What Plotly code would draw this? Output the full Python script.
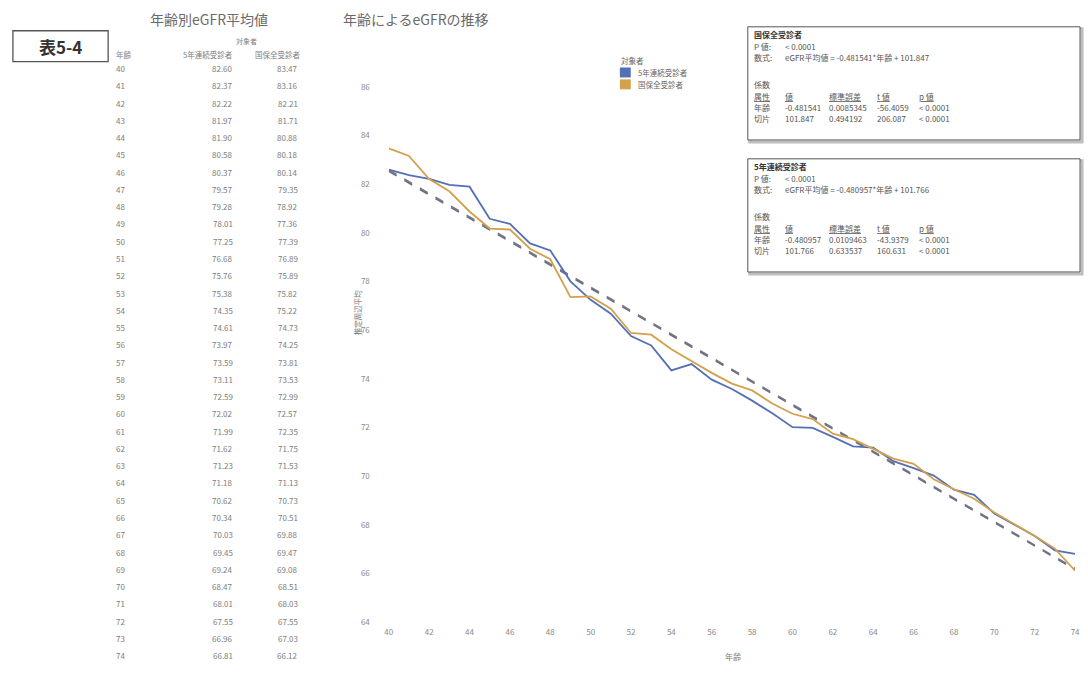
import plotly.graph_objects as go

# ---- data -------------------------------------------------------------
ages = list(range(40, 75))
egfr_5yr = [82.60, 82.37, 82.22, 81.97, 81.90, 80.58, 80.37, 79.57, 79.28, 78.01,
            77.25, 76.68, 75.76, 75.38, 74.35, 74.61, 73.97, 73.59, 73.11, 72.59,
            72.02, 71.99, 71.62, 71.23, 71.18, 70.62, 70.34, 70.03, 69.45, 69.24,
            68.47, 68.01, 67.55, 66.96, 66.81]
egfr_all = [83.47, 83.16, 82.21, 81.71, 80.88, 80.18, 80.14, 79.35, 78.92, 77.36,
            77.39, 76.89, 75.89, 75.82, 75.22, 74.73, 74.25, 73.81, 73.53, 72.99,
            72.57, 72.35, 71.75, 71.53, 71.13, 70.73, 70.51, 69.88, 69.47, 69.08,
            68.51, 68.03, 67.55, 67.03, 66.12]

# regression coefficients (slope, intercept)
fit_all = (-0.481541, 101.847)
fit_5yr = (-0.480957, 101.766)

x_ticks = list(range(40, 75, 2))
y_ticks = list(range(64, 87, 2))

series_names = ["5年連続受診者", "国保全受診者"]

W, H = 1088, 675
C_BLUE = "#5470b4"
C_ORANGE = "#d3a04c"
C_DASH = "#6a6f82"
C_TEXT = "#7d7d7d"
FONT = "Noto Sans CJK JP"


def px(x):
    return x / W


def py(y):
    return 1 - y / H


fig = go.Figure()

# regression lines (dashed)
for (b, a), col in ((fit_all, "#7c7a86"), (fit_5yr, C_DASH)):
    fig.add_trace(go.Scatter(
        x=[ages[0], ages[-1]], y=[a + b * ages[0], a + b * ages[-1]],
        mode="lines", line=dict(color=col, width=1.6, dash="dash"),
        showlegend=False, hoverinfo="skip"))

fig.add_trace(go.Scatter(x=ages, y=egfr_5yr, mode="lines", name=series_names[0],
                         line=dict(color=C_BLUE, width=1.8), showlegend=False))
fig.add_trace(go.Scatter(x=ages, y=egfr_all, mode="lines", name=series_names[1],
                         line=dict(color=C_ORANGE, width=1.8), showlegend=False))

annotations = []
shapes = []


def text(x, y, s, size=8, color=C_TEXT, xanchor="left", bold=False):
    if bold:
        s = "<b>" + s + "</b>"
    annotations.append(dict(x=px(x), y=py(y), xref="paper", yref="paper", text=s,
                            showarrow=False, xanchor=xanchor, yanchor="middle",
                            font=dict(family=FONT, size=size, color=color)))


# ---- label box --------------------------------------------------------
shapes.append(dict(type="rect", xref="paper", yref="paper",
                   x0=px(9), x1=px(105), y0=py(31), y1=py(62),
                   line=dict(color="#555", width=1.3)))
text(57, 47, "表5-4", size=17, color="#333", xanchor="center", bold=True)

# ---- table ------------------------------------------------------------
text(145, 19, "年齢別eGFR平均値", size=14, color="#6a6a6a")
text(232, 41, "対象者", size=7)
text(111, 55, "年齢", size=7.5)
text(233, 55, series_names[0], size=7.5, xanchor="right")
text(301, 55, series_names[1], size=7.5, xanchor="right")
row0, dy = 69, 17.4
for i, age in enumerate(ages):
    yy = row0 + i * dy
    text(111, yy, str(age), size=8)
    text(233, yy, f"{egfr_5yr[i]:.2f}", size=8, xanchor="right")
    text(298, yy, f"{egfr_all[i]:.2f}", size=8, xanchor="right")

# ---- chart title and axis titles ---------------------------------------
text(340, 19, "年齢によるeGFRの推移", size=14, color="#6a6a6a")
annotations.append(dict(x=px(349), y=py(315), xref="paper", yref="paper",
                        text="推定周辺平均", textangle=-90, showarrow=False,
                        font=dict(family=FONT, size=7.5, color="#777")))
text(735, 661, "年齢", size=8, xanchor="center")

# ---- legend (square swatches) -------------------------------------------
text(620, 61, "対象者", size=7.5, color="#666")
for k, (name, col) in enumerate(zip(series_names, (C_BLUE, C_ORANGE))):
    yc = 73 + k * 12
    shapes.append(dict(type="rect", xref="paper", yref="paper",
                       x0=px(621), x1=px(632), y0=py(yc + 5), y1=py(yc - 5),
                       fillcolor=col, line=dict(width=0)))
    text(637, yc, name, size=7.5, color="#666")


# ---- regression summary boxes -----------------------------------------
def stat_box(top, title, formula, coef_rows):
    shapes.append(dict(type="rect", xref="paper", yref="paper",
                       x0=px(752), x1=px(1087), y0=py(top + 116), y1=py(top + 2),
                       line=dict(color="#bdbdbd", width=3)))
    shapes.append(dict(type="rect", xref="paper", yref="paper",
                       x0=px(750), x1=px(1085), y0=py(top + 114), y1=py(top),
                       fillcolor="white", line=dict(color="#555", width=1)))
    c = "#555"
    text(754, top + 8, title, size=8, color="#333", bold=True)
    text(754, top + 20, "P 値:", size=8, color=c)
    text(785, top + 20, "< 0.0001", size=8, color=c)
    text(754, top + 31, "数式:", size=8, color=c)
    text(785, top + 31, formula, size=8, color=c)
    text(754, top + 58, "係数", size=8, color=c)
    cols = [754, 785, 830, 878, 921]
    heads = ["属性", "値", "標準誤差", "t 値", "p 値"]
    for xx, h in zip(cols, heads):
        text(xx, top + 70, "<u>" + h + "</u>", size=8, color=c)
    for j, row in enumerate(coef_rows):
        for xx, v in zip(cols, row):
            text(xx, top + 81 + j * 11, v, size=8, color=c)


stat_box(27, "国保全受診者",
         f"eGFR平均値 = {fit_all[0]}*年齢 + {fit_all[1]}",
         [["年齢", f"{fit_all[0]}", "0.0085345", "-56.4059", "< 0.0001"],
          ["切片", f"{fit_all[1]}", "0.494192", "206.087", "< 0.0001"]])
stat_box(160, series_names[0],
         f"eGFR平均値 = {fit_5yr[0]}*年齢 + {fit_5yr[1]}",
         [["年齢", f"{fit_5yr[0]}", "0.0109463", "-43.9379", "< 0.0001"],
          ["切片", f"{fit_5yr[1]}", "0.633537", "160.631", "< 0.0001"]])

fig.update_layout(
    width=W, height=H,
    margin=dict(l=0, r=0, t=0, b=0),
    paper_bgcolor="white", plot_bgcolor="white",
    font=dict(family=FONT, color=C_TEXT),
    showlegend=False,
    xaxis=dict(domain=[px(388), px(1080)], range=[40, 74],
               tickvals=x_ticks, showgrid=False, zeroline=False, showline=False,
               tickfont=dict(size=8, color="#8a8a8a"), ticks="",
               ticklabelstandoff=4),
    yaxis=dict(domain=[py(627), py(63)], range=[64, 87],
               tickvals=y_ticks, showgrid=False, zeroline=False, showline=False,
               tickfont=dict(size=8, color="#8a8a8a"), ticks="",
               ticklabelstandoff=18),
    annotations=annotations,
    shapes=shapes,
)

fig.write_html("out.html")
